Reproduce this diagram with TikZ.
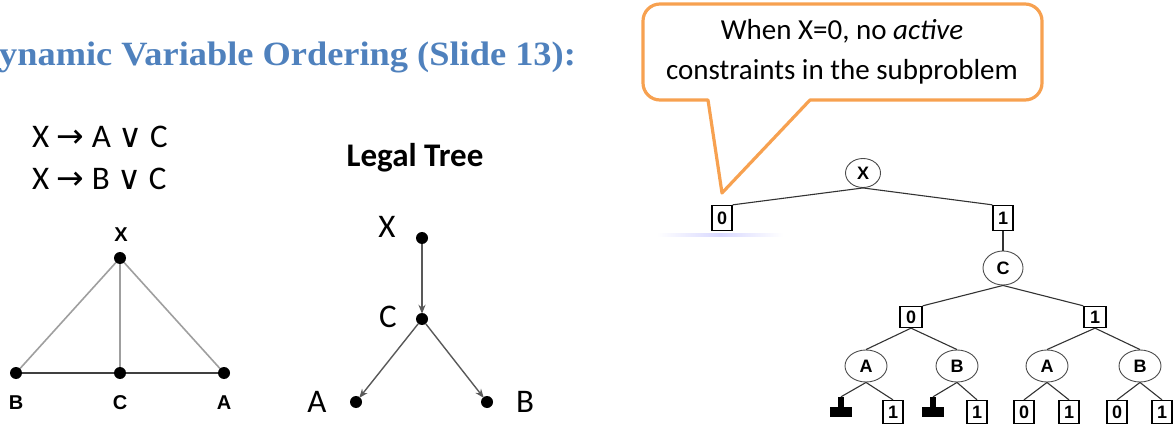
\documentclass[tikz,border=0pt]{standalone}
\usepackage{fontspec}
\usepackage{graphicx}
\setmainfont{Carlito}
\newfontfamily\titlefont{Liberation Serif}
\newfontfamily\arialfont{Liberation Sans}
\newfontfamily\symfont{DejaVu Sans}
\usetikzlibrary{shapes.geometric,arrows.meta,backgrounds}
\definecolor{titleblue}{HTML}{4F81BD}
\definecolor{callorange}{HTML}{F7A150}
\tikzset{
  dot/.style={circle,fill=black,inner sep=0pt,minimum size=12pt},
  glabel/.style={font=\arialfont\bfseries\fontsize{20}{22}\selectfont},
  tlabel/.style={font=\fontsize{33}{36}\selectfont},
  grayedge/.style={draw=gray!75,line width=1.6pt},
  darkedge/.style={draw=black!75,line width=1.6pt},
  tarrow/.style={draw=black!65,line width=1.4pt,-{Stealth[length=9pt,width=7pt]},shorten >=-1pt},
  var/.style={ellipse,draw=black!70,line width=0.9pt,minimum width=42pt,minimum height=32pt,inner sep=0pt,font=\arialfont\bfseries\fontsize{18}{20}\selectfont},
  val/.style={rectangle,draw=black,line width=1.3pt,minimum width=20pt,minimum height=23pt,inner sep=0pt,font=\arialfont\bfseries\fontsize{18}{20}\selectfont},
  tedge/.style={draw=black!80,line width=1.1pt},
  deadstem/.style={rectangle,fill=black,inner sep=0pt,minimum width=6pt,minimum height=10pt},
  deadbar/.style={rectangle,fill=black,inner sep=0pt,minimum width=22pt,minimum height=10pt},
}
\begin{document}
\begin{tikzpicture}[x=1pt,y=-1pt]
\useasboundingbox (0,0) rectangle (1175,430);
% title
\node[anchor=base west,inner sep=0pt,text=titleblue,font=\titlefont\bfseries\fontsize{34}{38}\selectfont] (title) at (-1,66) {\scalebox{1.07}[1]{ynamic Variable Ordering (Slide 13):}};
% implications
\node[anchor=base west,inner sep=0pt,tlabel] (imp1) at (32,148) {X {\symfont→} A {\symfont∨} C};
\node[anchor=base west,inner sep=0pt,tlabel] (imp2) at (32,190) {X {\symfont→} B {\symfont∨} C};
% constraint graph
\node[dot] (gX) at (120,258) {};
\node[dot] (gB) at (16,373) {};
\node[dot] (gC) at (120,373) {};
\node[dot] (gA) at (224,373) {};
\node[glabel] (lX) at (121,235) {X};
\node[glabel] (lB) at (16,403) {B};
\node[glabel] (lC) at (120,403) {C};
\node[glabel] (lA) at (224,403) {A};
\begin{scope}[on background layer]
\draw[grayedge] (gX.center) -- (gB.center);
\draw[grayedge] (gX.center) -- (gC.center);
\draw[grayedge] (gX.center) -- (gA.center);
\draw[darkedge] (gB.center) -- (gC.center) -- (gA.center);
\end{scope}
% legal tree
\node[font=\bfseries\fontsize{33}{36}\selectfont] (legal) at (415,158) {Legal Tree};
\node[dot] (tX) at (422,238) {};
\node[dot] (tC) at (422,319) {};
\node[dot] (tA) at (356,402) {};
\node[dot] (tB) at (487,402) {};
\node[tlabel] (ltX) at (387,227) {X};
\node[tlabel] (ltC) at (388,317) {C};
\node[tlabel] (ltA) at (317,402) {A};
\node[tlabel] (ltB) at (525,402) {B};
\draw[tarrow] (tX) -- (tC);
\draw[tarrow] (tC) -- (tA);
\draw[tarrow] (tC) -- (tB);
% search tree
\shade[left color=white,right color=white,middle color=blue!15] (657,234) rectangle (783,237);
\node[var,minimum width=35pt,minimum height=29pt] (X) at (863,173) {X};
\node[val,minimum height=25pt] (x0) at (722,218) {0};
\node[val,minimum height=25pt] (x1) at (1003,218) {1};
\node[var,minimum width=40pt,minimum height=34pt] (C) at (1003,268) {C};
\node[val,minimum width=22pt,minimum height=21pt] (c0) at (911,317) {0};
\node[val,minimum width=22pt,minimum height=21pt] (c1) at (1095,317) {1};
\node[var] (A1) at (866,366) {A};
\node[var] (B1) at (957,366) {B};
\node[var] (A2) at (1047,366) {A};
\node[var] (B2) at (1140,366) {B};
\node[deadstem] (d1) at (841,402) {};
\node[deadbar] (d1b) at (841,412) {};
\node[val] (l1) at (893,412) {1};
\node[deadstem] (d2) at (933,402) {};
\node[deadbar] (d2b) at (933,412) {};
\node[val] (l2) at (977,412) {1};
\node[val] (l3) at (1024,412) {0};
\node[val] (l4) at (1069,412) {1};
\node[val] (l5) at (1117,412) {0};
\node[val] (l6) at (1162,412) {1};
\draw[tedge] (X.south) -- (x0.north east);
\draw[tedge] (X.south) -- (x1.north west);
\draw[tedge] (x1.south) -- (C.north);
\draw[tedge] (C.south) -- (c0.north east);
\draw[tedge] (C.south) -- (c1.north west);
\draw[tedge] (c0.south) -- (A1.north);
\draw[tedge] (c0.south) -- (B1.north);
\draw[tedge] (c1.south) -- (A2.north);
\draw[tedge] (c1.south) -- (B2.north);
\draw[tedge] (A1.south) -- (d1.north);
\draw[tedge] (A1.south) -- (l1.north);
\draw[tedge] (B1.south) -- (d2.north);
\draw[tedge] (B1.south) -- (l2.north);
\draw[tedge] (A2.south) -- (l3.north);
\draw[tedge] (A2.south) -- (l4.north);
\draw[tedge] (B2.south) -- (l5.north);
\draw[tedge] (B2.south) -- (l6.north);
% callout
\coordinate (tip) at (722,193);
\draw[draw=callorange,line width=3.2pt,fill=white,line join=round]
  (708,100) -- (tip) -- (810,100)
  [rounded corners=17pt] -- (1042,100) -- (1042,4) -- (643,4) -- (643,100) [sharp corners] -- cycle;
\node[align=center,font=\fontsize{29}{40}\selectfont] (note) at (842,52) {When X=0, no \textit{active}\\constraints in the subproblem};
\end{tikzpicture}
\end{document}
